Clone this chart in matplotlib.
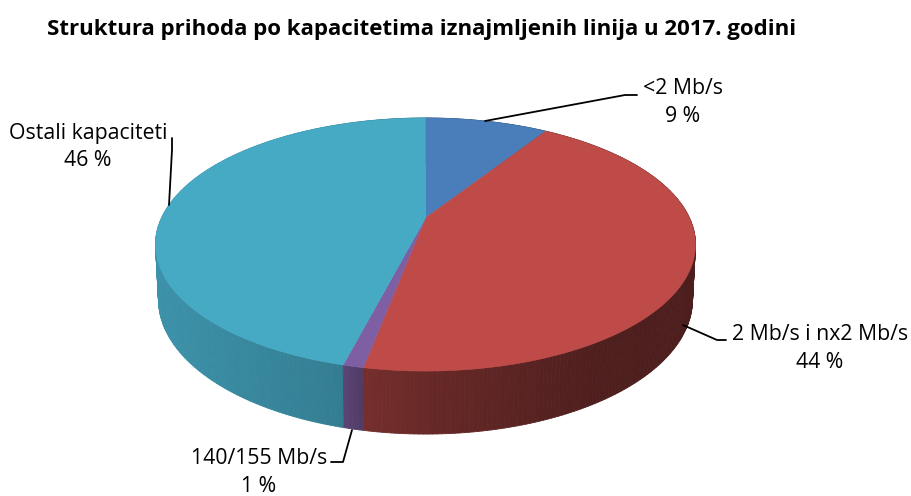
import numpy as np
import matplotlib
matplotlib.use("Agg")
import matplotlib.pyplot as plt
from matplotlib.collections import PolyCollection

title = "Struktura prihoda po kapacitetima iznajmljenih linija u 2017. godini"
categories = ["<2 Mb/s", "2 Mb/s i nx2 Mb/s", "140/155 Mb/s", "Ostali kapaciteti"]
values = [9, 44, 1, 46]
colors = ["#4a7ebb", "#be4b48", "#7f5fa3", "#46aac5"]

plt.rcParams["font.family"] = ["Open Sans", "DejaVu Sans"]
fig = plt.figure(figsize=(9.12, 4.96), dpi=100)
ax = fig.add_axes([0, 0, 1, 1])
ax.set_xlim(0, 912)
ax.set_ylim(496, 0)
ax.axis("off")

X0, Y0, A, B, K = 425.5, 218.0, 264.0, 121.0, 0.2095
XC, YC = 425.5, 244.0


def top_edge(theta):
    u, v = np.sin(theta), np.cos(theta)
    d = 1 + K * v
    return X0 + A * u / d, Y0 - B * v / d


def bottom_edge(theta):
    x, y = top_edge(theta)
    return XC + 0.989 * (x - XC), YC + 55 + 1.063 * (y - YC)


def shade(color, x):
    f = np.interp(x, [155, 340, 363, 420, 600, 700], [0.86, 0.74, 0.62, 0.55, 0.41, 0.40])
    return tuple(c * f for c in matplotlib.colors.to_rgb(color))


edges = np.cumsum([0] + values) / sum(values) * 2 * np.pi

# side wall, back to front
quads = []
for i, color in enumerate(colors):
    n = max(3, int((edges[i + 1] - edges[i]) / np.radians(0.8)))
    t = np.linspace(edges[i], edges[i + 1], n + 1)
    for a, b in zip(t[:-1], t[1:]):
        xa, ya = top_edge(a)
        xb, yb = top_edge(b)
        xc, yc = bottom_edge(b)
        xd, yd = bottom_edge(a)
        quads.append((np.cos((a + b) / 2), [(xa, ya), (xb, yb), (xc, yc), (xd, yd)],
                      shade(color, (xa + xb) / 2)))
quads.sort(key=lambda q: -q[0])
fc = [q[2] for q in quads]
ax.add_collection(PolyCollection([q[1] for q in quads], facecolors=fc, edgecolors=fc, linewidths=0.6))

# top face
for i, color in enumerate(colors):
    t = np.linspace(edges[i], edges[i + 1], 200)
    x, y = top_edge(t)
    ax.fill(np.r_[X0, x], np.r_[Y0, y], facecolor=color, edgecolor=color, linewidth=0.4)

# labels and leader lines
leader = dict(color="black", lw=1.3, solid_capstyle="round", solid_joinstyle="round")
ax.plot([485, 625, 637], [121, 95, 95], **leader)
ax.plot([169, 172, 172], [205, 150, 138], **leader)
ax.plot([683, 717, 726], [325, 340, 340], **leader)
ax.plot([352, 343, 331], [430, 462, 462], **leader)

fs = 15.3
for (x, y1), cat, val in zip([(683, 88), (820, 335), (259, 458), (88, 133)], categories, values):
    ax.text(x, y1, cat, ha="center", va="center", fontsize=fs)
    ax.text(x, y1 + 28, f"{val} %", ha="center", va="center", fontsize=fs)
ax.text(47, 29, title, ha="left", va="center", fontsize=16.0, fontweight="bold")

fig.savefig("out.png", dpi=100)
